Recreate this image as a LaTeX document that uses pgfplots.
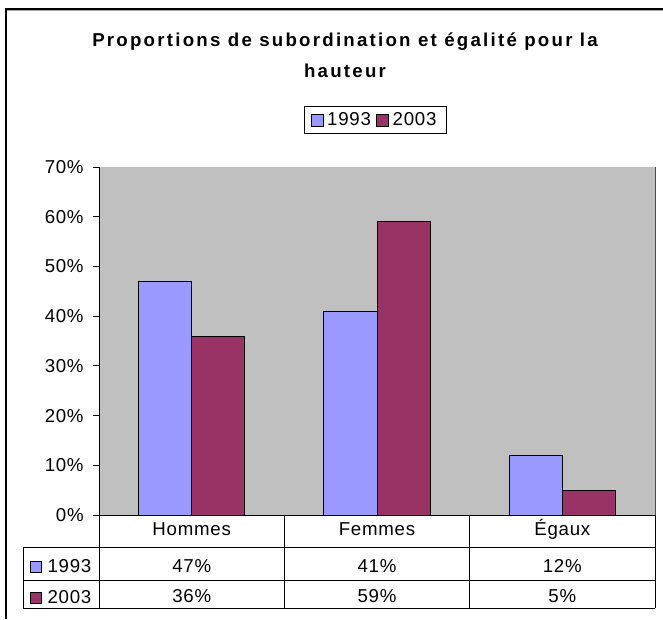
\documentclass[border=0pt]{standalone}
\usepackage{pgfplots}
\pgfplotsset{compat=1.18}
\usepackage{fontspec}
\setmainfont{Liberation Sans}
\newfontfamily\lsfont{Liberation Sans}[LetterSpace=4]
\newfontfamily\lsbfont{Liberation Sans Bold}[LetterSpace=12]
\definecolor{cA}{HTML}{9999FF}
\definecolor{cB}{HTML}{993366}
\definecolor{plotgray}{HTML}{C0C0C0}
\newcommand{\tf}{\lsfont\fontsize{14}{16}\selectfont}
\begin{document}
\begin{tikzpicture}
\path[use as bounding box] (0,0) rectangle (497.25pt,464.25pt);
\begin{axis}[at={(74.25pt,78pt)}, anchor=south west, scale only axis,
  width=417pt, height=261pt,
  xmin=-0.5, xmax=2.5, ymin=0, ymax=0.7,
  axis x line*=bottom, axis y line*=left,
  axis line style={-, black, line width=0.75pt},
  axis background/.style={fill=plotgray},
  xtick=\empty,
  ytick={0,0.1,0.2,0.3,0.4,0.5,0.6,0.7},
  yticklabels={0\%,10\%,20\%,30\%,40\%,50\%,60\%,70\%},
  tick align=outside, major tick length=4.5pt,
  tick style={black, line width=0.75pt},
  ticklabel style={font=\tf},
  yticklabel style={xshift=-3.5pt},
  legend columns=2,
  legend style={at={(axis description cs:0.497,1.135)}, anchor=center, draw=black, line width=0.75pt,
    font=\tf, inner xsep=5pt, inner ysep=3.2pt,
    nodes={inner xsep=2.5pt, inner ysep=1.5pt},
    /tikz/every even column/.append style={column sep=1.5pt}},
  legend image code/.code={\draw[#1, draw=black, line width=0.75pt] (0pt,-4.5pt) rectangle (9pt,4.5pt);},
]
\addplot[ybar, bar width=0.286, bar shift=-0.143, fill=cA, draw=black, line width=0.75pt] coordinates {(0,0.47) (1,0.41) (2,0.12)};
\addplot[ybar, bar width=0.286, bar shift=0.143, fill=cB, draw=black, line width=0.75pt] coordinates {(0,0.36) (1,0.59) (2,0.05)};
\legend{1993,2003}
\end{axis}
\begin{scope}[x=0.75pt, y=0.75pt, line width=0.75pt, font=\tf]
% chart frame (left and top visible)
\draw[black, line width=1.5pt] (6,0) -- (6,610) -- (663,610);
\draw[gray!70, line width=0.75pt] (7,608.5) -- (663,608.5);
\node[font=\lsbfont\fontsize{14}{16}\selectfont, anchor=base] at (345,572) {Proportions de subordination et égalité pour la};
\node[font=\lsbfont\fontsize{14}{16}\selectfont, anchor=base] at (345,541) {hauteur};
% plot area right border
\draw[black!70] (655,452) -- (655,104);
% data table
\draw (23,72) -- (655,72);
\draw (23,39) -- (655,39);
\draw (23,11) -- (655,11);
\draw (23,72) -- (23,11);
\draw (99,104) -- (99,11);
\draw (284.3,104) -- (284.3,11);
\draw (469.7,104) -- (469.7,11);
\draw (655,104) -- (655,11);
\node[anchor=base] at (191.7,84) {Hommes};
\node[anchor=base] at (377,84) {Femmes};
\node[anchor=base] at (562.3,84) {Égaux};
\draw[fill=cA] (30,47) rectangle (41,58);
\node[anchor=base west, inner sep=0pt] at (47,47) {1993};
\draw[fill=cB] (30,16) rectangle (41,27);
\node[anchor=base west, inner sep=0pt] at (47,16) {2003};
\node[anchor=base] at (191.7,47) {47\%};
\node[anchor=base] at (377,47) {41\%};
\node[anchor=base] at (562.3,47) {12\%};
\node[anchor=base] at (191.7,17) {36\%};
\node[anchor=base] at (377,17) {59\%};
\node[anchor=base] at (562.3,17) {5\%};
\end{scope}
\end{tikzpicture}
\end{document}
